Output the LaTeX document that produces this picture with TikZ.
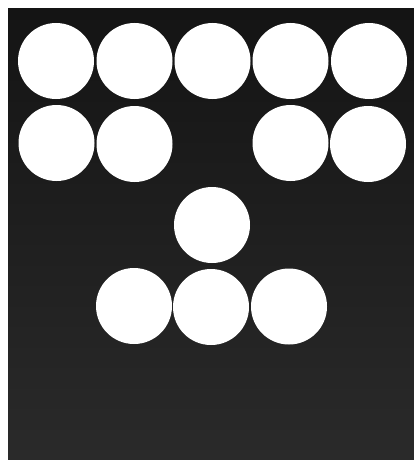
\documentclass[tikz,border=0pt]{standalone}
\begin{document}
\begin{tikzpicture}[x=1pt,y=-1pt,
  disc/.style={circle,fill=white,draw=none,minimum size=76pt,inner sep=0pt}]
\definecolor{bgtop}{HTML}{141414}
\definecolor{bgbot}{HTML}{2A2A2A}
\useasboundingbox (0,0) rectangle (414,460);
\fill[white] (0,0) rectangle (414,460);
\shade[top color=bgtop,bottom color=bgbot] (8,9) rectangle (414,460);
% row 1
\node[disc] (a1) at (56,61) {};
\node[disc] (a2) at (134.5,61) {};
\node[disc] (a3) at (212.5,61) {};
\node[disc] (a4) at (290.5,61) {};
\node[disc] (a5) at (369,61) {};
% row 2
\node[disc] (b1) at (56.5,143) {};
\node[disc] (b2) at (134.5,144) {};
\node[disc] (b4) at (290.5,143) {};
\node[disc] (b5) at (368,144) {};
% single
\node[disc] (c1) at (212,225) {};
% bottom row
\node[disc] (d1) at (134,306) {};
\node[disc] (d2) at (211,307) {};
\node[disc] (d3) at (289,306.5) {};
\end{tikzpicture}
\end{document}
